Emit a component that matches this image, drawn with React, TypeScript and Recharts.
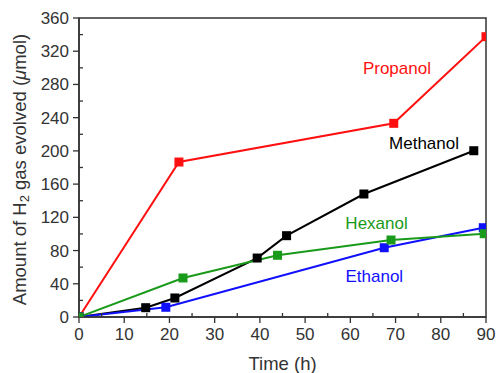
import React from 'react';
import { LineChart, Line, XAxis, YAxis, ReferenceArea, ReferenceDot } from 'recharts';

// values (time in h, H2 in µmol)
const propanolTime = [0, 22.1, 69.6, 90];
const propanolH2 = [0, 186.6, 233.2, 337.5];
const methanolTime = [0, 14.75, 21.2, 39.4, 45.9, 63.0, 87.3];
const methanolH2 = [0, 11.2, 22.9, 71, 97.9, 148.1, 200.2];
const ethanolTime = [0, 19.2, 67.5, 89.4];
const ethanolH2 = [0, 11.7, 83.4, 107.5];
const hexanolTime = [0, 23.0, 43.9, 69.0, 89.6];
const hexanolH2 = [0, 47, 74.3, 92.7, 100.3];

const xTicks = [0, 5, 10, 15, 20, 25, 30, 35, 40, 45, 50, 55, 60, 65, 70, 75, 80, 85, 90];
const yTicks = [0, 20, 40, 60, 80, 100, 120, 140, 160, 180, 200, 220, 240, 260, 280, 300, 320, 340, 360];

const FONT = '"Liberation Sans", Arial, sans-serif';
const AXIS = '#333';

const RED = '#ff1010';
const BLACK = '#000';
const BLUE = '#1010ff';
const GREEN = '#1a9a1a';

const toPoints = (t: number[], v: number[]) => t.map((time, i) => ({ time, h2: v[i] }));

const series = [
  { name: 'Propanol', color: RED, data: toPoints(propanolTime, propanolH2), lx: 70.3, ly: 300 },
  { name: 'Methanol', color: BLACK, data: toPoints(methanolTime, methanolH2), lx: 76.3, ly: 209.5 },
  { name: 'Ethanol', color: BLUE, data: toPoints(ethanolTime, ethanolH2), lx: 65.3, ly: 49.7 },
  { name: 'Hexanol', color: GREEN, data: toPoints(hexanolTime, hexanolH2), lx: 65.8, ly: 113.5 },
];

function XTick(props: any) {
  const { x, y, payload } = props;
  const major = payload.value % 10 === 0;
  return (
    <g>
      <line x1={x} y1={y} x2={x} y2={major ? y + 6 : y - 4} stroke={AXIS} strokeWidth={1.3} />
      {major && (
        <text x={x} y={y + 23} textAnchor="middle" fontSize={17} fontFamily={FONT} fill={AXIS}>
          {payload.value}
        </text>
      )}
    </g>
  );
}

function YTick(props: any) {
  const { x, y, payload } = props;
  const major = payload.value % 40 === 0;
  return (
    <g>
      <line x1={x} y1={y} x2={major ? x - 6 : x + 4} y2={y} stroke={AXIS} strokeWidth={1.3} />
      {major && (
        <text x={x - 10} y={y + 6} textAnchor="end" fontSize={17} fontFamily={FONT} fill={AXIS}>
          {payload.value}
        </text>
      )}
    </g>
  );
}

function YLabel(props: any) {
  const vb = props.viewBox || { x: 0, y: 18, width: 79, height: 299 };
  const cx = vb.x + 19;
  const cy = vb.y + vb.height / 2 + 2;
  return (
    <text
      x={cx}
      y={cy}
      transform={`rotate(-90, ${cx}, ${cy})`}
      textAnchor="middle"
      dominantBaseline="central"
      fontSize={18.5}
      fontFamily={FONT}
      fill={AXIS}
    >
      Amount of H
      <tspan fontSize={13} dy={5}>2</tspan>
      <tspan dy={-5}> gas evolved (</tspan>
      <tspan fontStyle="italic">μ</tspan>
      mol)
    </text>
  );
}

// clip path built from the plot rectangle so markers get cut at the frame
function PlotClip(props: any) {
  const { x, y, width, height } = props;
  return (
    <defs>
      <clipPath id="plot-clip">
        <rect x={x} y={y} width={width} height={height} />
      </clipPath>
    </defs>
  );
}

const squareDot = (color: string) => (props: any) => {
  const { cx, cy, index } = props;
  return (
    <rect
      key={index}
      x={cx - 4.5}
      y={cy - 4.5}
      width={9}
      height={9}
      fill={color}
      clipPath="url(#plot-clip)"
    />
  );
};

export default function App() {
  return (
    <div style={{ position: 'absolute', left: 0, top: 0, background: '#fff' }}>
      <LineChart width={496} height={373} margin={{ top: 18, right: 10, bottom: 0, left: 0 }}>
        <XAxis
          dataKey="time"
          type="number"
          domain={[0, 90]}
          ticks={xTicks}
          allowDataOverflow
          height={56}
          tickSize={0}
          tickMargin={0}
          tickLine={false}
          tick={<XTick />}
          interval={0}
          stroke={AXIS}
          strokeWidth={1.5}
          label={{ value: 'Time (h)', position: 'insideBottom', offset: 3, fontSize: 18.5, fontFamily: FONT, fill: AXIS }}
        />
        <YAxis
          dataKey="h2"
          type="number"
          domain={[0, 360]}
          ticks={yTicks}
          allowDataOverflow
          width={79}
          tickSize={0}
          tickMargin={0}
          tickLine={false}
          tick={<YTick />}
          interval={0}
          stroke={AXIS}
          strokeWidth={1.5}
          label={{ content: <YLabel /> }}
        />
        <ReferenceArea x1={0} x2={90} y1={0} y2={360} shape={<PlotClip />} />
        <ReferenceArea x1={0} x2={90} y1={0} y2={360} fill="none" stroke={AXIS} strokeWidth={1.5} />
        {series.map((s) => (
          <Line
            key={s.name}
            data={s.data}
            dataKey="h2"
            type="linear"
            stroke={s.color}
            strokeWidth={2}
            dot={squareDot(s.color)}
            activeDot={false}
            isAnimationActive={false}
          />
        ))}
        {series.map((s) => (
          <ReferenceDot
            key={`lbl-${s.name}`}
            x={s.lx}
            y={s.ly}
            r={0}
            stroke="none"
            fill="none"
            label={{ value: s.name, position: 'center', fill: s.color, fontSize: 17, fontFamily: FONT }}
          />
        ))}
      </LineChart>
    </div>
  );
}
